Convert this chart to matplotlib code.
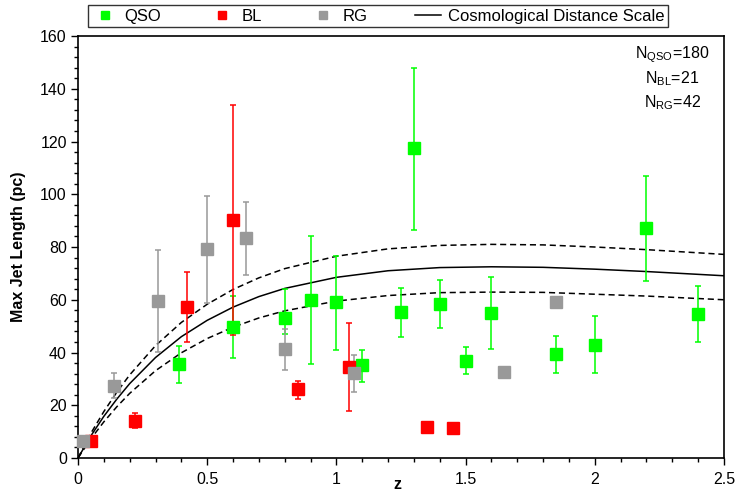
import numpy as np
import matplotlib
matplotlib.use("Agg")
from matplotlib import pyplot as plt
from matplotlib.ticker import MultipleLocator, FormatStrFormatter

plt.rcParams['font.family'] = ['Liberation Sans', 'DejaVu Sans']
plt.rcParams['mathtext.fontset'] = 'custom'
plt.rcParams['mathtext.rm'] = 'Liberation Sans'

# QSO
z_qso = [0.39, 0.6, 0.8, 0.9, 1.0, 1.1, 1.25, 1.3, 1.4, 1.5, 1.6, 1.85, 2.0, 2.2, 2.4]
len_qso = [35.6, 49.7, 53.0, 60.0, 59.0, 35.3, 55.3, 117.5, 58.4, 36.8, 55.0, 39.4, 43.0, 87.2, 54.6]
hi_qso = [42.5, 61.4, 64.0, 84.0, 76.6, 41.0, 64.4, 148.0, 67.5, 42.0, 68.6, 46.3, 53.8, 107.0, 65.2]
lo_qso = [28.4, 38.0, 47.0, 35.6, 41.0, 29.0, 46.0, 86.4, 49.3, 31.8, 41.3, 32.3, 32.2, 67.0, 44.0]

# BL
z_bl = [0.05, 0.22, 0.42, 0.6, 0.85, 1.05, 1.35, 1.45]
len_bl = [6.5, 14.0, 57.3, 90.2, 26.2, 34.5, 11.8, 11.4]
hi_bl = [np.nan, 17.0, 70.5, 134.0, 29.2, 51.2, np.nan, np.nan]
lo_bl = [np.nan, 11.4, 44.0, 46.6, 22.4, 17.8, np.nan, np.nan]

# RG
z_rg = [0.02, 0.14, 0.31, 0.5, 0.65, 0.8, 1.07, 1.65, 1.85]
len_rg = [6.5, 27.3, 59.5, 79.2, 83.4, 41.3, 32.2, 32.6, 59.0]
hi_rg = [np.nan, 32.2, 78.9, 99.3, 97.0, 48.9, 39.0, np.nan, np.nan]
lo_rg = [np.nan, 22.7, 40.2, 58.8, 69.4, 33.4, 25.0, np.nan, np.nan]

# cosmological distance scale curves
z_cos = [0, 0.05, 0.1, 0.15, 0.2, 0.3, 0.4, 0.5, 0.6, 0.7, 0.8, 1.0, 1.2, 1.4, 1.6, 1.8, 2.0, 2.2, 2.5]
cos_mid = [0, 8.4, 15.8, 22.3, 28.2, 38.1, 46.0, 52.2, 57.2, 61.2, 64.3, 68.5, 71.0, 72.2, 72.5, 72.3, 71.6, 70.7, 69.1]
cos_up = [0, 9.4, 17.6, 24.9, 31.5, 42.6, 51.4, 58.3, 63.9, 68.3, 71.8, 76.5, 79.3, 80.6, 81.0, 80.8, 80.0, 79.0, 77.2]
cos_lo = [0, 7.3, 13.7, 19.4, 24.5, 33.1, 39.9, 45.3, 49.6, 53.1, 55.8, 59.5, 61.6, 62.7, 62.9, 62.8, 62.1, 61.4, 60.0]

counts = {"QSO": 180, "BL": 21, "RG": 42}


def plot_group(ax, z, val, hi, lo, color, label):
    z = np.array(z)
    val = np.array(val)
    hi = np.array(hi)
    lo = np.array(lo)
    m = np.isfinite(hi)
    ax.errorbar(z[m], val[m], yerr=[val[m] - lo[m], hi[m] - val[m]], fmt='none',
                ecolor=color, elinewidth=1.1, capsize=2.5, capthick=1.1, zorder=3)
    ax.plot(z, val, 's', color=color, ms=8, mec=color, label=label, zorder=4, clip_on=False)


fig = plt.figure(figsize=(7.35, 4.98), dpi=100)
ax = fig.add_axes([0.1061, 0.0803, 0.8789, 0.8474])

ax.plot(z_cos, cos_mid, '-', color='black', lw=1.1, label='Cosmological Distance Scale', zorder=2)
ax.plot(z_cos, cos_up, '--', color='black', lw=1.1, dashes=(4, 2.5), zorder=2)
ax.plot(z_cos, cos_lo, '--', color='black', lw=1.1, dashes=(4, 2.5), zorder=2)

plot_group(ax, z_qso, len_qso, hi_qso, lo_qso, '#00ff00', 'QSO')
plot_group(ax, z_bl, len_bl, hi_bl, lo_bl, '#ff0000', 'BL')
plot_group(ax, z_rg, len_rg, hi_rg, lo_rg, '#999999', 'RG')

ax.set_xlim(0, 2.5)
ax.set_ylim(0, 160)
ax.xaxis.set_major_locator(MultipleLocator(0.5))
ax.xaxis.set_minor_locator(MultipleLocator(0.1))
ax.xaxis.set_major_formatter(FormatStrFormatter('%g'))
ax.yaxis.set_major_locator(MultipleLocator(20))
ax.yaxis.set_minor_locator(MultipleLocator(4))
ax.tick_params(axis='both', which='major', direction='out', length=5, width=1, labelsize=11.5)
ax.tick_params(axis='both', which='minor', direction='out', length=3, width=1)
ax.tick_params(axis='x', which='major', pad=5)
ax.tick_params(axis='y', which='major', pad=3)
for s in ax.spines.values():
    s.set_linewidth(1.2)

ax.set_ylabel('Max Jet Length (pc)', fontsize=11.5, fontweight='bold')
ax.yaxis.set_label_coords(-0.08, 0.5)
ax.set_xlabel('z', fontsize=11.5, fontweight='bold')
ax.xaxis.set_label_coords(0.495, -0.045)

ax.text(0.92, 0.955, r'N$_{\mathrm{QSO}}$=%d' % counts["QSO"], transform=ax.transAxes,
        ha='center', va='center', fontsize=11.5)
ax.text(0.92, 0.898, r'N$_{\mathrm{BL}}$=%d' % counts["BL"], transform=ax.transAxes,
        ha='center', va='center', fontsize=11.5)
ax.text(0.92, 0.841, r'N$_{\mathrm{RG}}$=%d' % counts["RG"], transform=ax.transAxes,
        ha='center', va='center', fontsize=11.5)

h, l = ax.get_legend_handles_labels()
order = [1, 2, 3, 0]
leg = fig.legend([h[i] for i in order], [l[i] for i in order], loc='lower left',
                 bbox_to_anchor=(0.1197, 0.9458, 0.789, 0.0442), mode='expand', ncol=4,
                 fontsize=12, frameon=True, fancybox=False, edgecolor='black',
                 borderpad=0.2, handlelength=1.6, handletextpad=0.4, markerscale=0.8,
                 borderaxespad=0)
leg.get_frame().set_linewidth(1.0)

plt.savefig('out.png', dpi=100)
